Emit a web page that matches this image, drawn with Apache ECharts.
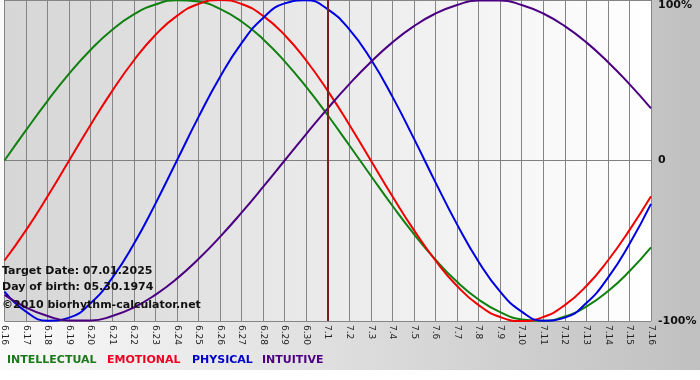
<!DOCTYPE html>
<html><head><meta charset="utf-8">
<script src="https://cdn.jsdelivr.net/npm/echarts@6/dist/echarts.min.js"></script>
<style>html,body{margin:0;padding:0;background:#fff}#c{width:700px;height:380px}</style>
</head><body><div id="c"></div>
<script>
const days = ['6.16','6.17','6.18','6.19','6.20','6.21','6.22','6.23','6.24','6.25','6.26','6.27','6.28','6.29','6.30',
  '7.1','7.2','7.3','7.4','7.5','7.6','7.7','7.8','7.9','7.10','7.11','7.12','7.13','7.14','7.15','7.16'];
const intellectual = [0,0.189,0.372,0.541,0.690,0.815,0.910,0.972,0.999,0.990,0.945,0.866,0.756,0.618,0.458,0.282,0.095,
  -0.095,-0.282,-0.458,-0.618,-0.756,-0.866,-0.945,-0.990,-0.999,-0.972,-0.910,-0.815,-0.690,-0.541];
const emotional = [-0.623,-0.434,-0.223,0,0.223,0.434,0.623,0.782,0.901,0.975,1.0,0.975,0.901,0.782,0.623,0.434,0.223,
  0,-0.223,-0.434,-0.623,-0.782,-0.901,-0.975,-1.0,-0.975,-0.901,-0.782,-0.623,-0.434,-0.223];
const physical = [-0.817,-0.942,-0.998,-0.979,-0.888,-0.731,-0.520,-0.270,0,0.270,0.520,0.731,0.888,0.979,0.998,0.942,0.817,
  0.631,0.398,0.136,-0.136,-0.398,-0.631,-0.817,-0.942,-0.998,-0.979,-0.888,-0.731,-0.520,-0.270];
const intuitive = [-0.837,-0.916,-0.969,-0.997,-0.997,-0.969,-0.916,-0.837,-0.736,-0.614,-0.476,-0.325,-0.165,0,0.165,0.325,
  0.476,0.614,0.736,0.837,0.916,0.969,0.997,0.997,0.969,0.916,0.837,0.736,0.614,0.476,0.325];
const yTicks = {'1':'100%','0':'0','-1':'-100%'};
const targetDay = '7.1';
const infoLines = ['Target Date: 07.01.2025','Day of birth: 05.30.1974','\u00a92010 biorhythm-calculator.net'];
const legendItems = [
  {name:'INTELLECTUAL', color:'#1a7a1a'},
  {name:'EMOTIONAL', color:'#f00020'},
  {name:'PHYSICAL', color:'#0000cc'},
  {name:'INTUITIVE', color:'#4b0082'}
];
const lineColors = ['#108010','#f00000','#0000e0','#4b0082'];

const chart = echarts.init(document.getElementById('c'), null, {renderer:'canvas'});
const font = 'DejaVu Sans, Verdana, sans-serif';
const mkSeries = (name, data, color) => ({
  name, type:'line', data, smooth:0.5, symbol:'none', silent:true,
  lineStyle:{color, width:2}, itemStyle:{color}, clip:false
});
const legendX = [7,107,192,262];
const infoY = [273,289,307];
const option = {
  animation:false,
  backgroundColor:'#ffffff',
  grid:{left:0, right:49, top:0, bottom:59, show:true, borderWidth:0,
    backgroundColor:new echarts.graphic.LinearGradient(0,0,1,0,[{offset:0,color:'#d6d6d6'},{offset:1,color:'#ffffff'}])},
  xAxis:{type:'category', data:days, boundaryGap:false,
    axisLine:{show:true, lineStyle:{color:'#808080', width:1}},
    axisTick:{show:true, length:3, lineStyle:{color:'#808080'}},
    splitLine:{show:true, lineStyle:{color:'#858585', width:1}},
    axisLabel:{interval:0, rotate:-90, margin:4, fontSize:9, fontFamily:font, color:'#222'}},
  yAxis:{type:'value', min:-1, max:1, interval:1, position:'right',
    axisLine:{show:false}, axisTick:{show:false},
    splitLine:{show:true, lineStyle:{color:'#858585', width:1}},
    axisLabel:{margin:7, fontSize:11, fontWeight:'bold', fontFamily:font, color:'#111',
      formatter:v=>yTicks[String(v)], verticalAlignMaxLabel:'top'}},
  series:[
    mkSeries('INTELLECTUAL', intellectual, lineColors[0]),
    mkSeries('EMOTIONAL', emotional, lineColors[1]),
    mkSeries('PHYSICAL', physical, lineColors[2]),
    mkSeries('INTUITIVE', intuitive, lineColors[3]),
    {type:'line', data:[], silent:true,
     markLine:{silent:true, symbol:'none', label:{show:false},
       lineStyle:{color:'#7a1e1e', width:2, type:'solid'}, data:[{xAxis:targetDay}]}}
  ],
  graphic:[
    {type:'rect', z:-100, silent:true, shape:{x:0,y:0,width:700,height:370},
     style:{fill:new echarts.graphic.LinearGradient(0,0,1,0,[{offset:0,color:'#fafafa'},{offset:1,color:'#c0c0c0'}])}},
    ...infoLines.map((t,i)=>({type:'text', z:100, silent:true, left:2, top:infoY[i]-7,
      style:{text:t, font:'bold 11px '+font, fill:'#111'}})),
    ...legendItems.map((it,i)=>({type:'text', z:100, silent:true, left:legendX[i], top:355,
      style:{text:it.name, font:'bold 11px '+font, fill:it.color}}))
  ]
};
chart.setOption(option);
</script></body></html>
